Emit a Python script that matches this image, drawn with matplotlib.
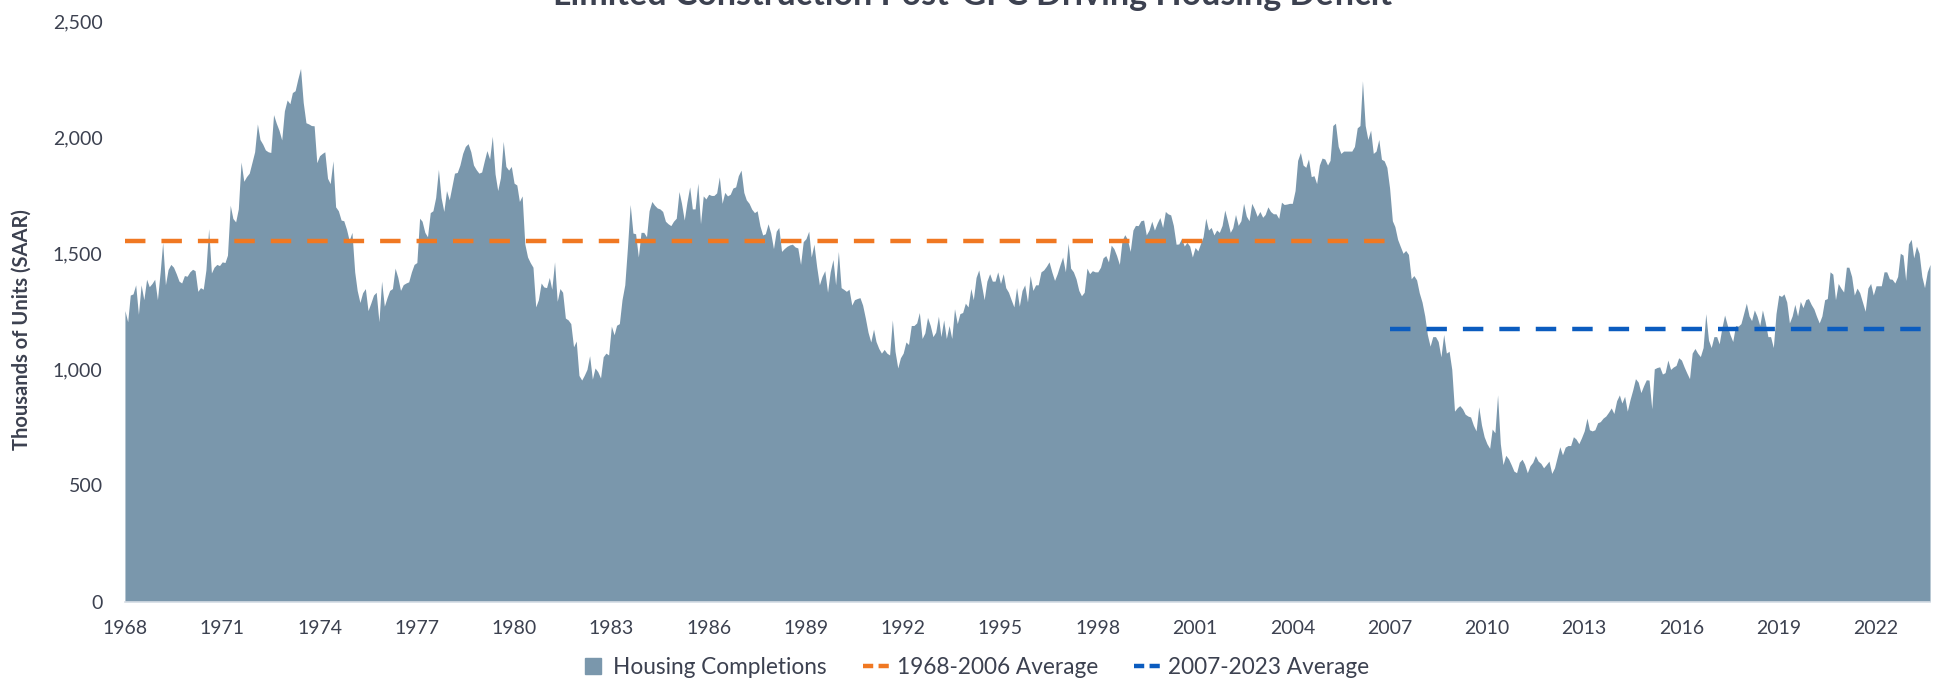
import matplotlib
matplotlib.use("Agg")
import matplotlib.pyplot as plt
import matplotlib.dates as mdates
from matplotlib.lines import Line2D
from matplotlib.ticker import FuncFormatter
import numpy as np
import pandas as pd

# ---------------- data (thousands of units, SAAR, monthly) ----------------
title = "Limited Construction Post-GFC Driving Housing Deficit"
ylabel = "Thousands of Units (SAAR)"
series_name = "Housing Completions"
avg1_name = "1968-2006 Average"
avg2_name = "2007-2023 Average"
avg1_value = 1553
avg2_value = 1175
avg1_span = ("1968-01-01", "2007-01-01")
avg2_span = ("2007-01-01", "2023-09-01")
start_month = "1968-01-01"
x_tick_years = list(range(1968, 2024, 3))
y_ticks = [0, 500, 1000, 1500, 2000, 2500]

completions = {
    1968: [1253, 1205, 1320, 1325, 1364, 1237, 1364, 1300, 1388, 1356, 1370, 1388],
    1969: [1300, 1420, 1547, 1364, 1430, 1452, 1440, 1412, 1380, 1372, 1404, 1401],
    1970: [1420, 1431, 1425, 1336, 1352, 1345, 1428, 1606, 1415, 1440, 1452, 1447],
    1971: [1463, 1460, 1492, 1707, 1650, 1635, 1691, 1893, 1810, 1830, 1845, 1890],
    1972: [1937, 2057, 1990, 1970, 1945, 1937, 1934, 2097, 2060, 2030, 1988, 2113],
    1973: [2160, 2144, 2192, 2200, 2250, 2296, 2150, 2062, 2057, 2050, 2049, 1890],
    1974: [1920, 1930, 1937, 1823, 1800, 1898, 1700, 1683, 1643, 1640, 1603, 1555],
    1975: [1590, 1420, 1340, 1288, 1330, 1348, 1253, 1285, 1320, 1332, 1205, 1380],
    1976: [1272, 1310, 1340, 1348, 1436, 1396, 1340, 1365, 1372, 1377, 1420, 1452],
    1977: [1460, 1651, 1638, 1590, 1571, 1675, 1683, 1740, 1861, 1740, 1680, 1770],
    1978: [1730, 1790, 1845, 1848, 1880, 1930, 1960, 1972, 1937, 1880, 1860, 1845],
    1979: [1850, 1900, 1942, 1906, 2004, 1842, 1770, 1826, 1982, 1874, 1858, 1874],
    1980: [1802, 1794, 1723, 1747, 1540, 1484, 1460, 1440, 1269, 1300, 1372, 1355],
    1981: [1352, 1396, 1345, 1463, 1293, 1348, 1332, 1221, 1213, 1197, 1097, 1122],
    1982: [974, 954, 974, 1000, 1059, 958, 1006, 990, 963, 1054, 1070, 1062],
    1983: [1186, 1149, 1190, 1197, 1300, 1364, 1524, 1710, 1587, 1584, 1484, 1590],
    1984: [1590, 1571, 1683, 1723, 1707, 1695, 1691, 1680, 1638, 1627, 1619, 1638],
    1985: [1651, 1766, 1715, 1643, 1720, 1786, 1691, 1691, 1802, 1627, 1747, 1734],
    1986: [1754, 1749, 1749, 1760, 1829, 1715, 1762, 1747, 1754, 1781, 1786, 1834],
    1987: [1858, 1762, 1730, 1715, 1690, 1675, 1683, 1619, 1579, 1584, 1627, 1587],
    1988: [1520, 1595, 1611, 1508, 1520, 1530, 1536, 1539, 1527, 1523, 1452, 1550],
    1989: [1563, 1595, 1484, 1539, 1444, 1364, 1400, 1425, 1332, 1420, 1473, 1364],
    1990: [1508, 1352, 1345, 1336, 1345, 1277, 1300, 1305, 1309, 1277, 1221, 1160],
    1991: [1118, 1173, 1120, 1090, 1070, 1086, 1070, 1062, 1213, 1078, 1006, 1050],
    1992: [1070, 1118, 1107, 1189, 1189, 1200, 1245, 1133, 1157, 1224, 1189, 1141],
    1993: [1160, 1229, 1141, 1213, 1133, 1189, 1133, 1261, 1197, 1240, 1245, 1285],
    1994: [1269, 1348, 1300, 1396, 1428, 1364, 1300, 1380, 1412, 1380, 1380, 1420],
    1995: [1370, 1412, 1352, 1332, 1300, 1269, 1352, 1272, 1340, 1364, 1290, 1404],
    1996: [1340, 1364, 1364, 1420, 1428, 1444, 1463, 1420, 1383, 1412, 1450, 1484],
    1997: [1420, 1543, 1436, 1420, 1390, 1340, 1317, 1332, 1436, 1412, 1425, 1420],
    1998: [1420, 1440, 1480, 1490, 1463, 1535, 1520, 1490, 1452, 1555, 1580, 1560],
    1999: [1508, 1600, 1620, 1619, 1640, 1643, 1579, 1600, 1638, 1600, 1630, 1654],
    2000: [1611, 1680, 1670, 1665, 1620, 1539, 1540, 1563, 1531, 1547, 1531, 1484],
    2001: [1525, 1510, 1540, 1571, 1651, 1600, 1611, 1579, 1600, 1590, 1620, 1686],
    2002: [1640, 1590, 1610, 1667, 1620, 1640, 1715, 1660, 1640, 1715, 1690, 1659],
    2003: [1680, 1655, 1667, 1700, 1680, 1670, 1670, 1650, 1720, 1710, 1712, 1715],
    2004: [1715, 1770, 1900, 1934, 1880, 1870, 1906, 1830, 1834, 1800, 1880, 1910],
    2005: [1906, 1880, 1900, 2050, 2060, 1960, 1930, 1940, 1940, 1940, 1940, 1960],
    2006: [2040, 2050, 2243, 2050, 1990, 2030, 1930, 1940, 1990, 1905, 1898, 1870],
    2007: [1780, 1640, 1615, 1560, 1530, 1500, 1512, 1495, 1390, 1404, 1385, 1330],
    2008: [1290, 1230, 1150, 1100, 1141, 1141, 1120, 1054, 1150, 1070, 1078, 1000],
    2009: [820, 835, 844, 830, 807, 799, 795, 760, 735, 839, 760, 710],
    2010: [680, 660, 743, 727, 890, 680, 590, 630, 615, 590, 562, 555],
    2011: [600, 613, 592, 555, 585, 600, 629, 605, 595, 576, 590, 605],
    2012: [552, 576, 620, 667, 632, 665, 672, 672, 710, 700, 680, 705],
    2013: [735, 790, 740, 735, 740, 770, 775, 790, 799, 815, 834, 810],
    2014: [865, 890, 855, 884, 820, 870, 911, 960, 945, 900, 930, 955],
    2015: [954, 830, 1002, 1008, 1011, 980, 986, 1040, 1000, 1010, 1017, 1050],
    2016: [1040, 1010, 985, 960, 1070, 1090, 1070, 1055, 1094, 1240, 1126, 1094],
    2017: [1141, 1141, 1110, 1180, 1234, 1190, 1150, 1120, 1189, 1186, 1197, 1240],
    2018: [1285, 1230, 1210, 1256, 1229, 1189, 1256, 1205, 1141, 1141, 1094, 1240],
    2019: [1320, 1314, 1325, 1290, 1200, 1230, 1280, 1230, 1293, 1266, 1300, 1305],
    2020: [1280, 1260, 1229, 1200, 1230, 1300, 1305, 1420, 1410, 1300, 1370, 1350],
    2021: [1333, 1440, 1440, 1400, 1320, 1350, 1330, 1290, 1250, 1350, 1370, 1320],
    2022: [1360, 1360, 1360, 1420, 1420, 1390, 1388, 1372, 1400, 1500, 1492, 1383],
    2023: [1540, 1560, 1480, 1531, 1500, 1400, 1352, 1420, 1452],
}

# ---------------- styling ----------------
AREA = "#7a97ac"
ORANGE = "#f07822"
BLUE = "#0b5cbf"
TEXT = "#3c4150"
FONT = ["Lato", "DejaVu Sans"]
plt.rcParams["font.family"] = FONT

values = [v for y in sorted(completions) for v in completions[y]]
dates = pd.date_range(start_month, periods=len(values), freq="MS")

fig = plt.figure(figsize=(19.37, 6.79), dpi=100)
ax = fig.add_axes([0.0645, 0.114, 0.9319, 0.855])

ax.fill_between(dates, values, 0, color=AREA, linewidth=0, zorder=1)

lw = 3.2
ax.plot(pd.to_datetime(list(avg1_span)), [avg1_value, avg1_value], color=ORANGE,
        lw=lw, dashes=(4.6, 3.6), dash_capstyle="butt", zorder=3)
ax.plot([pd.Timestamp(avg2_span[0]), dates[-1]], [avg2_value, avg2_value], color=BLUE,
        lw=lw, dashes=(4.6, 3.6), dash_capstyle="butt", zorder=3)

ax.set_xlim(dates[0], dates[-1])
ax.set_ylim(0, 2500)
ax.set_yticks(y_ticks)
ax.yaxis.set_major_formatter(FuncFormatter(lambda v, p: f"{int(v):,}"))
ax.set_xticks([pd.Timestamp(f"{y}-01-01") for y in x_tick_years])
ax.xaxis.set_major_formatter(mdates.DateFormatter("%Y"))

for s in ["top", "right", "left"]:
    ax.spines[s].set_visible(False)
ax.spines["bottom"].set_color("#d6dde5")
ax.spines["bottom"].set_linewidth(1.2)
ax.tick_params(axis="both", length=0, labelsize=14, colors=TEXT)
ax.tick_params(axis="x", pad=13)
ax.tick_params(axis="y", pad=16)

fig.text(0.0114, 0.515, ylabel, rotation=90, ha="center", va="center",
         fontsize=14.5, fontweight="bold", color=TEXT)
fig.text(0.502, 0.9926, title, ha="center", va="baseline", fontsize=24.5,
         fontweight="bold", color=TEXT)

handles = [
    Line2D([], [], marker="s", markersize=12, linestyle="none", color=AREA),
    Line2D([], [], color=ORANGE, lw=lw, dashes=(2.3, 1.2)),
    Line2D([], [], color=BLUE, lw=lw, dashes=(2.3, 1.2)),
]
leg = fig.legend(handles, [series_name, avg1_name, avg2_name], loc="center",
                 bbox_to_anchor=(0.503, 0.0165), ncol=3, frameon=False,
                 fontsize=16.3, handlelength=1.2, handletextpad=0.3,
                 columnspacing=1.6, labelcolor=TEXT)

fig.savefig("out.png", dpi=100)
